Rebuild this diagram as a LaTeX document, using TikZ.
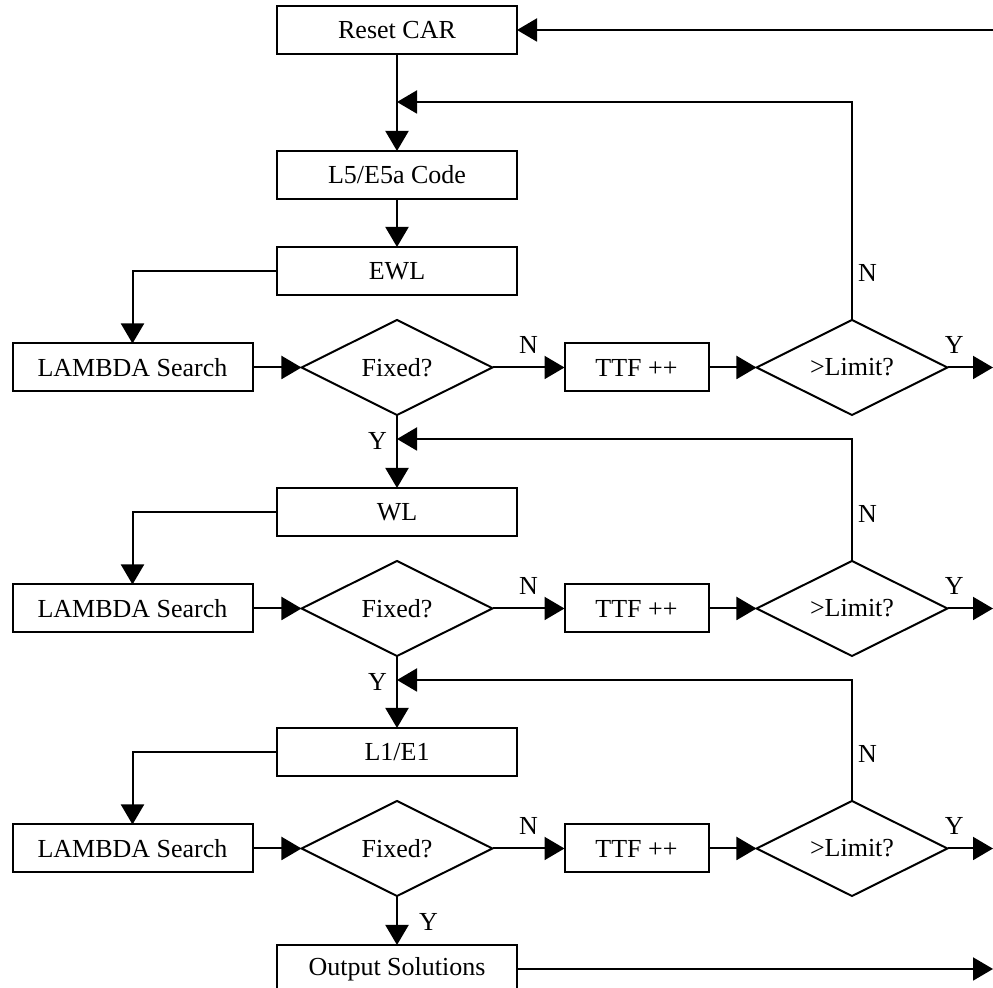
\documentclass[tikz,border=0pt]{standalone}
\usepackage{fontspec}
\setmainfont{Liberation Serif}
\usetikzlibrary{shapes.geometric, arrows.meta, positioning, calc}
\tikzset{
  basebox/.style={
    rectangle, draw=black, line width=1pt, align=center, inner sep=0pt, outer sep=0pt,
    font=\fontsize{13}{15}\selectfont
  },
  stepbox/.style={basebox, minimum width=120pt, minimum height=24pt},
  ttfbox/.style={basebox, minimum width=72pt, minimum height=24pt},
  decisionbox/.style={diamond, aspect=2, draw=black, line width=1pt, inner sep=0pt, outer sep=0pt,
    minimum width=95.5pt, minimum height=47.5pt, font=\fontsize{13}{15}\selectfont},
  arrow/.style={-{Triangle[length=10pt,width=11.5pt]}, line width=1pt},
  yn/.style={inner sep=1pt, outer sep=0pt, font=\fontsize{13}{15}\selectfont}
}
\begin{document}
\begin{tikzpicture}
  \useasboundingbox (0,0) rectangle (496.5pt,-494pt);
  \coordinate (rim) at (496.5pt,0);

  \node[stepbox] (reset) at (198.5pt,-15pt) {Reset CAR};
  \node[stepbox, below=48.5pt of reset] (l5) {L5/E5a Code};
  \node[stepbox, below=24pt of l5] (ewl) {EWL};
  \node[decisionbox, below=12.5pt of ewl] (fix1) {Fixed?};
  \node[stepbox, left=24.5pt of fix1] (lam1) {LAMBDA Search};
  \node[ttfbox, right=36pt of fix1] (ttf1) {TTF ++};
  \node[decisionbox, right=24pt of ttf1] (lim1) {>Limit?};

  \node[stepbox, below=36.5pt of fix1] (wl) {WL};
  \node[decisionbox, below=12.5pt of wl] (fix2) {Fixed?};
  \node[stepbox, left=24.5pt of fix2] (lam2) {LAMBDA Search};
  \node[ttfbox, right=36pt of fix2] (ttf2) {TTF ++};
  \node[decisionbox, right=24pt of ttf2] (lim2) {>Limit?};

  \node[stepbox, below=36pt of fix2] (l1) {L1/E1};
  \node[decisionbox, below=12.5pt of l1] (fix3) {Fixed?};
  \node[stepbox, left=24.5pt of fix3] (lam3) {LAMBDA Search};
  \node[ttfbox, right=36pt of fix3] (ttf3) {TTF ++};
  \node[decisionbox, right=24pt of ttf3] (lim3) {>Limit?};

  \node[stepbox, below=24.5pt of fix3] (out) {Output Solutions};

  % merge points on the main line
  \coordinate (m1) at ([yshift=-24pt]reset.south);
  \coordinate (m2) at ([yshift=-12pt]fix1.south);
  \coordinate (m3) at ([yshift=-12pt]fix2.south);

  \draw[arrow] (reset -| rim) -- (reset.east);
  \draw[arrow] (reset) -- (l5);
  \draw[arrow] (l5) -- (ewl);

  % level 1
  \draw[arrow] (ewl.west) -| (lam1.north);
  \draw[arrow] (lam1) -- (fix1);
  \draw[arrow] (fix1) -- node[yn, above=6pt]{N} (ttf1);
  \draw[arrow] (ttf1) -- (lim1);
  \draw[arrow] (lim1.east) -- node[yn, above=6pt, pos=0.15]{Y} (lim1 -| rim);
  \draw[arrow] (lim1.north) -- ([yshift=23.5pt]lim1.north) node[yn, right=2pt]{N} |- (m1);
  \draw[arrow] (fix1.south) -- node[yn, pos=0.36, left=4pt]{Y} (wl.north);

  % level 2
  \draw[arrow] (wl.west) -| (lam2.north);
  \draw[arrow] (lam2) -- (fix2);
  \draw[arrow] (fix2) -- node[yn, above=6pt]{N} (ttf2);
  \draw[arrow] (ttf2) -- (lim2);
  \draw[arrow] (lim2.east) -- node[yn, above=6pt, pos=0.15]{Y} (lim2 -| rim);
  \draw[arrow] (lim2.north) -- ([yshift=23.5pt]lim2.north) node[yn, right=2pt]{N} |- (m2);
  \draw[arrow] (fix2.south) -- node[yn, pos=0.36, left=4pt]{Y} (l1.north);

  % level 3
  \draw[arrow] (l1.west) -| (lam3.north);
  \draw[arrow] (lam3) -- (fix3);
  \draw[arrow] (fix3) -- node[yn, above=6pt]{N} (ttf3);
  \draw[arrow] (ttf3) -- (lim3);
  \draw[arrow] (lim3.east) -- node[yn, above=6pt, pos=0.15]{Y} (lim3 -| rim);
  \draw[arrow] (lim3.north) -- ([yshift=23.5pt]lim3.north) node[yn, right=2pt]{N} |- (m3);
  \draw[arrow] (fix3.south) -- node[yn, pos=0.53, right=10pt]{Y} (out.north);

  \draw[arrow] (out.east) -- (out -| rim);
\end{tikzpicture}
\end{document}
